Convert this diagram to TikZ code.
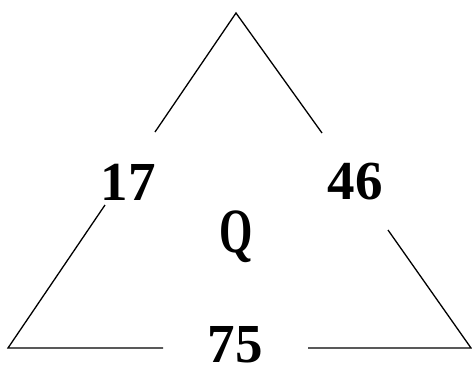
\documentclass[tikz,border=0pt]{standalone}
\usepackage{fontspec}
\setmainfont{Liberation Serif}
\begin{document}
\begin{tikzpicture}[x=1pt,y=-1pt,
  numlbl/.style={font=\fontsize{55}{55}\selectfont\bfseries,inner sep=0pt},
  edge/.style={line width=1.3pt}]
  \useasboundingbox (0,0) rectangle (472,367);
  % corners of the triangle
  \coordinate (top) at (236,13);
  \coordinate (bl) at (8,348);
  \coordinate (br) at (471,348);
  % ends of the gaps round the labels
  \coordinate (l1) at (155,132);
  \coordinate (l2) at (105,205);
  \coordinate (r1) at (322,133);
  \coordinate (r2) at (388,230);
  \coordinate (b1) at (163,348);
  \coordinate (b2) at (308,348);
  \node[numlbl] (n17) at (128,182) {17};
  \node[numlbl] (n46) at (355,182) {46};
  \node[numlbl] (n75) at (235,345) {75};
  \node[inner sep=0pt,font=\fontsize{63}{63}\selectfont\bfseries,xscale=0.68] (q) at (236,237) {Q};
  \draw[edge] (l1) -- (top) -- (r1);
  \draw[edge] (l2) -- (bl) -- (b1);
  \draw[edge] (r2) -- (br) -- (b2);
\end{tikzpicture}
\end{document}
